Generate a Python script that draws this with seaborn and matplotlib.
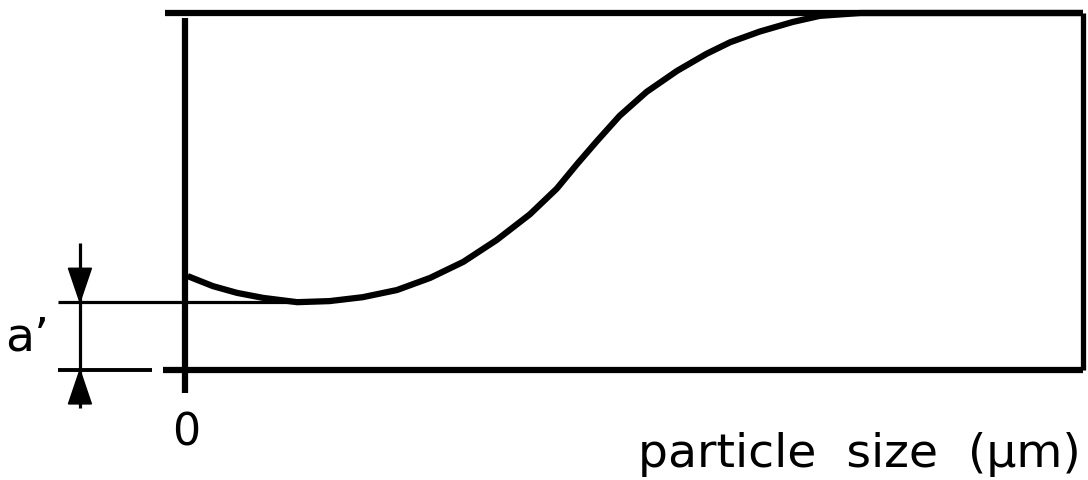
import matplotlib
matplotlib.use("Agg")
import matplotlib.pyplot as plt
import seaborn as sns
import numpy as np
import pandas as pd

# curve (x: particle size, y: response), box spans 0..100
size = [0.3, 3.1, 5.8, 8.7, 12.5, 16.1, 19.8, 23.6, 27.3, 31.0, 34.7, 38.4,
        41.4, 43.7, 45.9, 48.4, 51.4, 54.8, 58.1, 60.7, 64.0, 67.7, 70.7,
        75.2, 85.0, 100.0]
value = [26.3, 23.5, 21.6, 20.2, 19.0, 19.3, 20.4, 22.4, 25.8, 30.3, 36.4, 43.6,
         50.8, 57.8, 64.2, 71.2, 77.9, 83.8, 88.6, 91.8, 94.8, 97.5, 99.2,
         100.0, 100.0, 100.0]
x_label = "particle  size  (\u03bcm)"
origin_label = "0"
offset_label = "a\u2019"

df = pd.DataFrame({"size": size, "value": value})

sns.set_style("white")
plt.rcParams['font.family'] = ['DejaVu Sans']
plt.rcParams['text.color'] = 'black'

fig = plt.figure(figsize=(10.88, 4.8), dpi=100)
ax = fig.add_axes([185 / 1088, 110 / 480, 898 / 1088, 357 / 480])

sns.lineplot(data=df, x="size", y="value", color="black", lw=4.5, ax=ax,
             clip_on=False, solid_capstyle="butt", solid_joinstyle="round")

ax.set_xlim(0, 100)
ax.set_ylim(0, 100)
ax.axis("off")

thick = 4.5
thin = 2.3
k = dict(color="black", clip_on=False, solid_capstyle="butt")

# frame
ax.plot([-2.2, 100], [100, 100], lw=thick, **k)
ax.plot([100, 100], [0, 100], lw=3.8, **k)
ax.plot([0, 0], [-6.4, 98.5], lw=thick, **k)
ax.plot([-2.45, 100], [0, 0], lw=thick, **k)
ax.plot([-14.1, -3.7], [0, 0], lw=thin + 0.5, **k)

# a' level = curve minimum
a_level = min(value)
ax.plot([-14.1, size[int(np.argmin(value))]], [a_level, a_level], lw=thin, **k)

# dimension arrow
xa = -11.7
ax.plot([xa, xa], [-10.6, 35.6], lw=thin, **k)
hw, hh = 1.28, 9.5
ax.fill([xa - hw, xa + hw, xa], [a_level + hh, a_level + hh, a_level],
        color="black", clip_on=False)
ax.fill([xa - hw, xa + hw, xa], [-hh, -hh, 0], color="black", clip_on=False)

ax.text(-17.6, 9.0, offset_label, fontsize=34, ha="center", va="center", color="black")
ax.text(0.1, -17.6, origin_label, fontsize=32, ha="center", va="center", color="black")
ax.text(99.7, -27.2, x_label, fontsize=34, ha="right", va="baseline", color="black")

fig.savefig("out.png", dpi=100)
